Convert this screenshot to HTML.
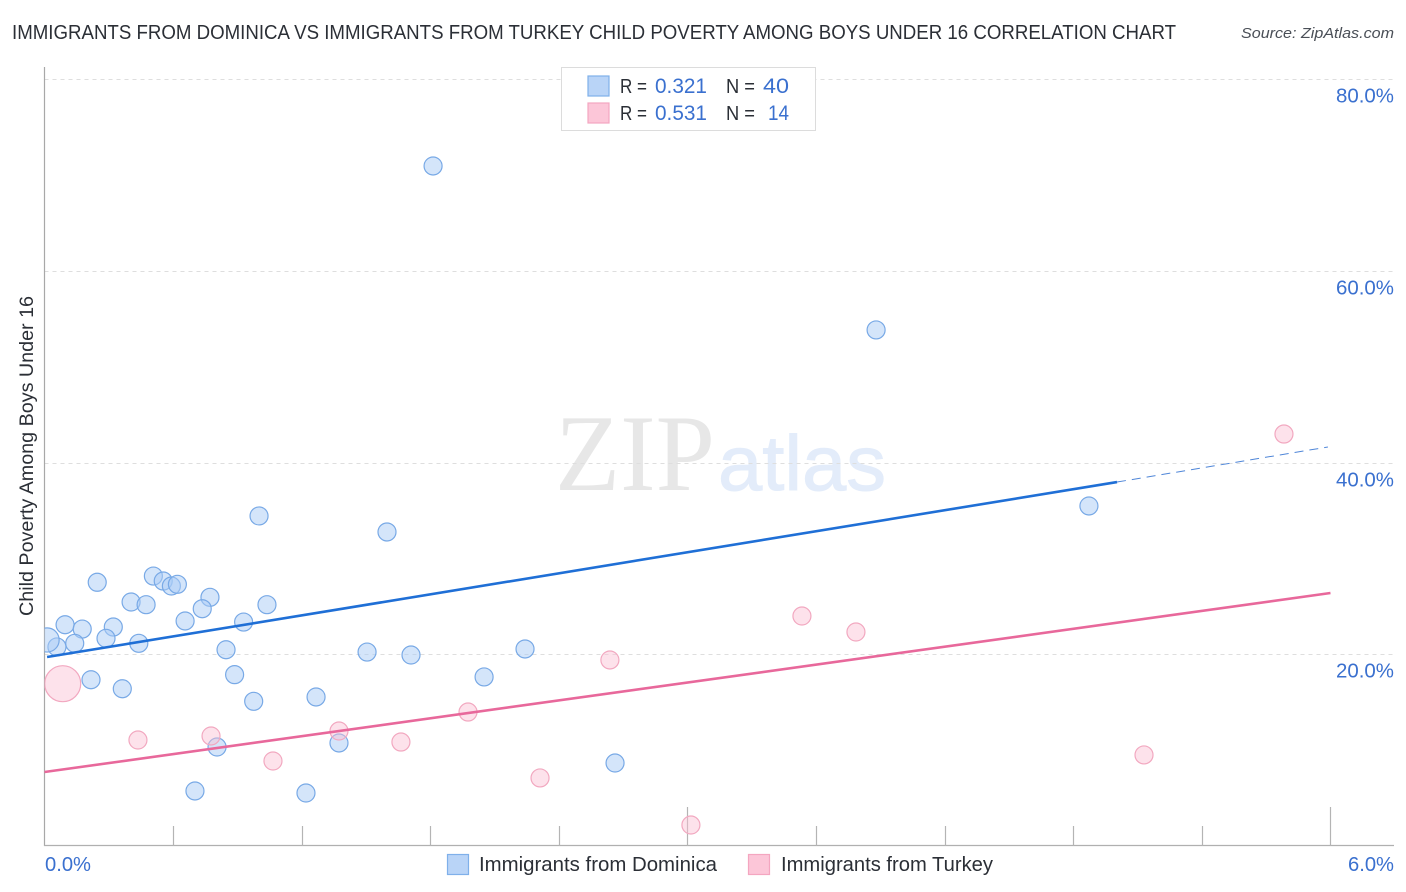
<!DOCTYPE html>
<html lang="en">
<head>
<meta charset="utf-8">
<title>Immigrants from Dominica vs Immigrants from Turkey Child Poverty Among Boys Under 16</title>
<style>
html,body{margin:0;padding:0;background:#fff;width:1406px;height:892px;overflow:hidden}
svg{display:block}
text{font-family:"Liberation Sans",sans-serif}
</style>
</head>
<body>
<svg id="chart" width="1406" height="892" viewBox="0 0 1406 892" xmlns="http://www.w3.org/2000/svg">
  <defs><clipPath id="plot-clip"><rect x="44.5" y="60" width="1350" height="786"/></clipPath></defs>

  <text x="12" y="39" font-size="20" fill="#2b2f36" textLength="1164" lengthAdjust="spacingAndGlyphs">IMMIGRANTS FROM DOMINICA VS IMMIGRANTS FROM TURKEY CHILD POVERTY AMONG BOYS UNDER 16 CORRELATION CHART</text>
  <text x="1241" y="38" font-size="15" font-style="italic" fill="#4a4f57" textLength="153" lengthAdjust="spacingAndGlyphs">Source: ZipAtlas.com</text>

  <g>
    <text x="555" y="490" font-size="109" fill="#e7e7e7" textLength="160" lengthAdjust="spacingAndGlyphs" style="font-family:'Liberation Serif',serif">ZIP</text>
    <text x="718" y="490" font-size="78" fill="#e3ecfa" stroke="#e3ecfa" stroke-width="1" textLength="168" lengthAdjust="spacingAndGlyphs">atlas</text>
  </g>

  <g id="grid"></g>
  <g id="axes"></g>
  <g id="points" clip-path="url(#plot-clip)"></g>
  <g id="trends"></g>
  <g id="tick-labels"></g>

  <text transform="translate(33,456) rotate(-90)" text-anchor="middle" font-size="19" fill="#2b2f36" textLength="320" lengthAdjust="spacingAndGlyphs">Child Poverty Among Boys Under 16</text>

  <g>
    <rect x="561.5" y="67.5" width="254" height="63" fill="#fff" stroke="#dcdcdc" stroke-width="1"/>
    <rect x="588" y="76" width="21" height="20" fill="#b9d4f7" stroke="#7fb0ea" stroke-width="1.2"/>
    <rect x="588" y="103" width="21" height="20" fill="#fcc6d8" stroke="#f4a6c0" stroke-width="1.2"/>
    <text x="620" y="93" font-size="20" fill="#2b2f36" textLength="27" lengthAdjust="spacingAndGlyphs">R =</text>
    <text x="655" y="93" font-size="21" fill="#3a70cf" textLength="52" lengthAdjust="spacingAndGlyphs">0.321</text>
    <text x="726" y="93" font-size="20" fill="#2b2f36" textLength="29" lengthAdjust="spacingAndGlyphs">N =</text>
    <text x="763" y="93" font-size="21" fill="#3a70cf" textLength="26" lengthAdjust="spacingAndGlyphs">40</text>
    <text x="620" y="120" font-size="20" fill="#2b2f36" textLength="27" lengthAdjust="spacingAndGlyphs">R =</text>
    <text x="655" y="120" font-size="21" fill="#3a70cf" textLength="52" lengthAdjust="spacingAndGlyphs">0.531</text>
    <text x="726" y="120" font-size="20" fill="#2b2f36" textLength="29" lengthAdjust="spacingAndGlyphs">N =</text>
    <text x="768" y="120" font-size="21" fill="#3a70cf" textLength="21" lengthAdjust="spacingAndGlyphs">14</text>
  </g>

  <g>
    <rect x="447.5" y="854.5" width="21" height="20" fill="#b9d4f7" stroke="#7fb0ea" stroke-width="1.2"/>
    <text x="479" y="871" font-size="20" fill="#2b2f36" textLength="238" lengthAdjust="spacingAndGlyphs">Immigrants from Dominica</text>
    <rect x="748.5" y="854.5" width="21" height="20" fill="#fcc6d8" stroke="#f4a6c0" stroke-width="1.2"/>
    <text x="781" y="871" font-size="20" fill="#2b2f36" textLength="212" lengthAdjust="spacingAndGlyphs">Immigrants from Turkey</text>
  </g>
</svg>
<script>
// Data (x and y in percent)
const dominicaX = [1.813,3.880,4.873,1.001,1.598,0.246,0.508,0.554,0.592,0.620,0.772,0.404,0.474,0.736,1.038,0.656,0.929,0.096,0.176,0.321,0.287,0.141,0.058,0.012,0.440,0.847,1.505,1.710,2.242,0.887,2.051,0.217,0.363,0.976,1.267,1.374,0.805,2.662,0.702,1.220];
const dominicaY = [70.96,53.85,35.48,34.44,32.77,27.52,28.17,27.65,27.13,27.31,25.95,25.46,25.18,24.76,25.18,23.48,23.37,23.09,22.64,22.85,21.67,21.15,20.77,21.50,21.15,20.48,20.24,19.93,20.56,17.88,17.64,17.35,16.41,15.10,15.55,10.75,10.33,8.66,5.74,5.53];
const dominicaWeight = [1,1,1,1,1,1,1,1,1,1,1,1,1,1,1,1,1,1,1,1,1,1,1,1.8,1,1,1,1,1,1,1,1,1,1,1,1,1,1,1,1];
const turkeyX = [0.085,0.436,0.777,1.066,1.374,1.663,1.976,2.312,2.638,3.016,3.534,3.786,5.130,5.783];
const turkeyY = [16.94,11.06,11.48,8.87,12.00,10.85,13.98,7.10,19.41,2.19,24.00,22.33,9.50,42.99];
const turkeyWeight = [4,1,1,1,1,1,1,1,1,1,1,1,1,1];
const dominicaTrendX = [0.012,5.004];
const dominicaTrendY = [19.72,37.98];
const dominicaDashX = [5.004,5.988];
const dominicaDashY = [37.98,41.64];
const turkeyTrendX = [0,6];
const turkeyTrendY = [7.72,26.40];
const yTicks = [20,40,60,80];
const yTickLabels = ["20.0%","40.0%","60.0%","80.0%"];
const xTicks = [0.6,1.2,1.8,2.4,3.0,3.6,4.2,4.8,5.4,6.0];
const xMajorTicks = [3.0,6.0];
const xEndValues = [0,6];
const xEndLabels = ["0.0%","6.0%"];

const NS = 'http://www.w3.org/2000/svg';
const xScale = v => 44.5 + v * 214.33;
const yScale = v => 846 - v * 9.583;
const radius = w => 9 * Math.sqrt(w);

function make(tag, attrs, parent) {
  const el = document.createElementNS(NS, tag);
  for (const k in attrs) el.setAttribute(k, attrs[k]);
  parent.appendChild(el);
  return el;
}

const gridG = document.getElementById('grid');
const axesG = document.getElementById('axes');
const pointsG = document.getElementById('points');
const trendsG = document.getElementById('trends');
const labelsG = document.getElementById('tick-labels');

yTicks.forEach((t, i) => {
  const py = Math.round(yScale(t)) + 0.5;
  const line = make('line', {x1: 44.5, x2: 1394, y1: py, y2: py, stroke: '#dedede', 'stroke-width': 1, 'stroke-dasharray': '4 4'}, gridG);
  
  
  const label = make('text', {x: 1394, y: py + 23, 'text-anchor': 'end', 'font-size': 20, fill: '#3a70cf', textLength: 58, lengthAdjust: 'spacingAndGlyphs'}, labelsG);
  label.textContent = yTickLabels[i];
  
  
});

const yAxis = make('line', {x1: 44.5, x2: 44.5, y1: 67, y2: 846, stroke: '#a8a8a8', 'stroke-width': 1.2}, axesG);


const xAxis = make('line', {x1: 44, x2: 1394, y1: 845.5, y2: 845.5, stroke: '#b0b0b0', 'stroke-width': 1.2}, axesG);



xTicks.forEach(t => {
  const px = Math.round(xScale(t)) + 0.5;
  const top = xMajorTicks.includes(t) ? 807 : 826;
  const tick = make('line', {x1: px, x2: px, y1: top, y2: 846, stroke: '#b4b4b4', 'stroke-width': 1.2}, axesG);
  
  
});

xEndValues.forEach((v, i) => {
  const first = i === 0;
  const label = make('text', {x: first ? 45 : 1394, y: 871, 'text-anchor': first ? 'start' : 'end', 'font-size': 20, fill: '#3a70cf', textLength: 46, lengthAdjust: 'spacingAndGlyphs'}, labelsG);
  label.textContent = xEndLabels[i];
  
  
});

dominicaX.forEach((v, i) => {
  const c = make('circle', {cx: xScale(v), cy: yScale(dominicaY[i]), r: radius(dominicaWeight[i]), fill: 'rgba(170,203,245,0.5)', stroke: '#78a9e6', 'stroke-width': 1.2}, pointsG);
  
  
});

turkeyX.forEach((v, i) => {
  const c = make('circle', {cx: xScale(v), cy: yScale(turkeyY[i]), r: radius(turkeyWeight[i]), fill: 'rgba(251,190,210,0.45)', stroke: '#f2a8c0', 'stroke-width': 1.2}, pointsG);
  
  
});

const blueTrend = make('line', {x1: xScale(dominicaTrendX[0]), y1: yScale(dominicaTrendY[0]), x2: xScale(dominicaTrendX[1]), y2: yScale(dominicaTrendY[1]), stroke: '#1f6fd6', 'stroke-width': 2.6}, trendsG);


const blueDash = make('line', {x1: xScale(dominicaDashX[0]), y1: yScale(dominicaDashY[0]), x2: xScale(dominicaDashX[1]), y2: yScale(dominicaDashY[1]), stroke: '#4f86d8', 'stroke-width': 1, 'stroke-dasharray': '9 6'}, trendsG);


const pinkTrend = make('line', {x1: xScale(turkeyTrendX[0]), y1: yScale(turkeyTrendY[0]), x2: xScale(turkeyTrendX[1]), y2: yScale(turkeyTrendY[1]), stroke: '#e8689b', 'stroke-width': 2.6}, trendsG);


</script>
</body>
</html>
